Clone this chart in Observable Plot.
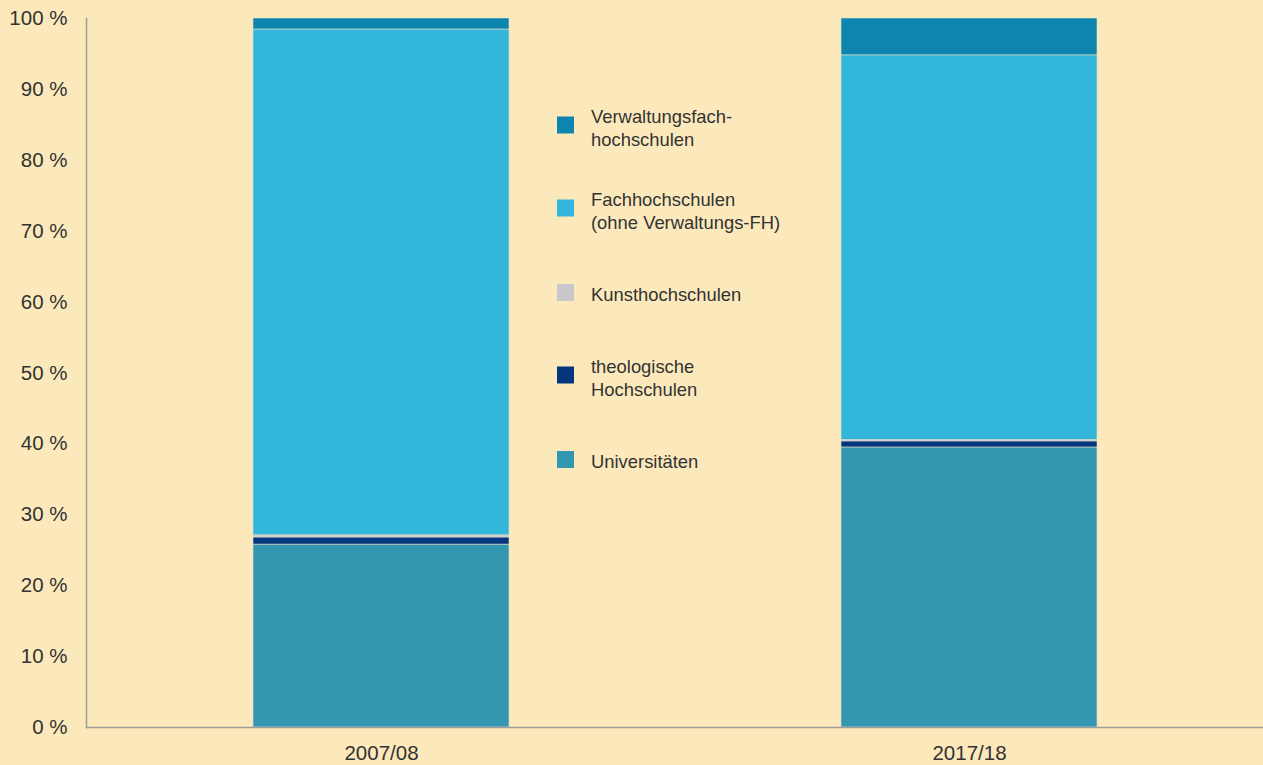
<!DOCTYPE html>
<html><head><meta charset="utf-8">
<script src="https://cdn.jsdelivr.net/npm/d3@7"></script>
<script src="https://cdn.jsdelivr.net/npm/@observablehq/plot@0.6"></script>
<style>
body{margin:0;background:#FCE9BB;font-family:"Liberation Sans",Arial,sans-serif;}
#wrap{position:relative;width:1263px;height:765px;overflow:hidden}
.legend{position:absolute;left:557px;top:0;}
.item{position:absolute;left:0;display:flex;align-items:center;white-space:nowrap;transform:translateY(-50%);}
.sw{width:17px;height:17px;margin-right:17px;flex:none}
.lbl{font-size:18.4px;line-height:23px;color:#333;padding-top:5px}
</style></head>
<body><div id="wrap"></div>
<script>
const years = ["2007/08", "2017/18"];
// stack order bottom -> top
const categories = ["Universitäten", "theologische Hochschulen", "Kunsthochschulen", "Fachhochschulen (ohne Verwaltungs-FH)", "Verwaltungsfachhochschulen"];
const colors = ["#3397B2", "#04357F", "#C8C8CC", "#33B6DC", "#0E85AE"];
const values2007 = [25.8, 1.0, 0.3, 71.35, 1.55];
const values2017 = [39.5, 0.85, 0.2, 54.25, 5.2];
const yTicks = [0, 10, 20, 30, 40, 50, 60, 70, 80, 90, 100];
// legend order top -> bottom, with line breaks as in the original
const legendLabels = [
  ["Verwaltungsfach-", "hochschulen"],
  ["Fachhochschulen", "(ohne Verwaltungs-FH)"],
  ["Kunsthochschulen"],
  ["theologische", "Hochschulen"],
  ["Universitäten"]
];

const data = [];
categories.forEach((c, i) => {
  data.push({year: years[0], category: c, value: values2007[i]});
  data.push({year: years[1], category: c, value: values2017[i]});
});

const chart = Plot.plot({
  width: 1263, height: 765,
  marginLeft: 86, marginRight: 0, marginTop: 18, marginBottom: 38,
  style: {background: "transparent", fontFamily: "Liberation Sans, Arial, sans-serif", fontSize: "20px", color: "#333"},
  x: {domain: years, paddingInner: 0.565, paddingOuter: 0.2825, label: null, axis: null},
  y: {domain: [0, 100], label: null, axis: null},
  color: {domain: categories, range: colors},
  marks: [
    Plot.barY(data, {x: "year", y: "value", fill: "category", order: categories, stroke: "#E6E0C4", strokeWidth: 0.6}),
    Plot.axisY({ticks: yTicks, tickFormat: d => d + " %", tickSize: 0, tickPadding: 19, fontSize: 20.5, fill: "#333", label: null}),
    Plot.axisX({tickSize: 0, tickPadding: 18, fontSize: 20.5, fill: "#333", label: null}),
    Plot.ruleY([0], {stroke: "#9C9C9C", strokeWidth: 1.5}),
    Plot.frame({anchor: "left", stroke: "#9C9C9C", strokeWidth: 1.5})
  ]
});
const wrap = document.getElementById("wrap");
wrap.appendChild(chart);

const legend = document.createElement("div");
legend.className = "legend";
const centers = [125, 208, 292, 375, 459];
const legendColors = colors.slice().reverse();
legendLabels.forEach((lines, i) => {
  const it = document.createElement("div");
  it.className = "item";
  it.style.top = centers[i] + "px";
  const sw = document.createElement("div");
  sw.className = "sw";
  sw.style.background = legendColors[i];
  const lb = document.createElement("div");
  lb.className = "lbl";
  lb.innerHTML = lines.join("<br>");
  it.appendChild(sw); it.appendChild(lb);
  legend.appendChild(it);
});
wrap.appendChild(legend);
</script>
</body></html>
